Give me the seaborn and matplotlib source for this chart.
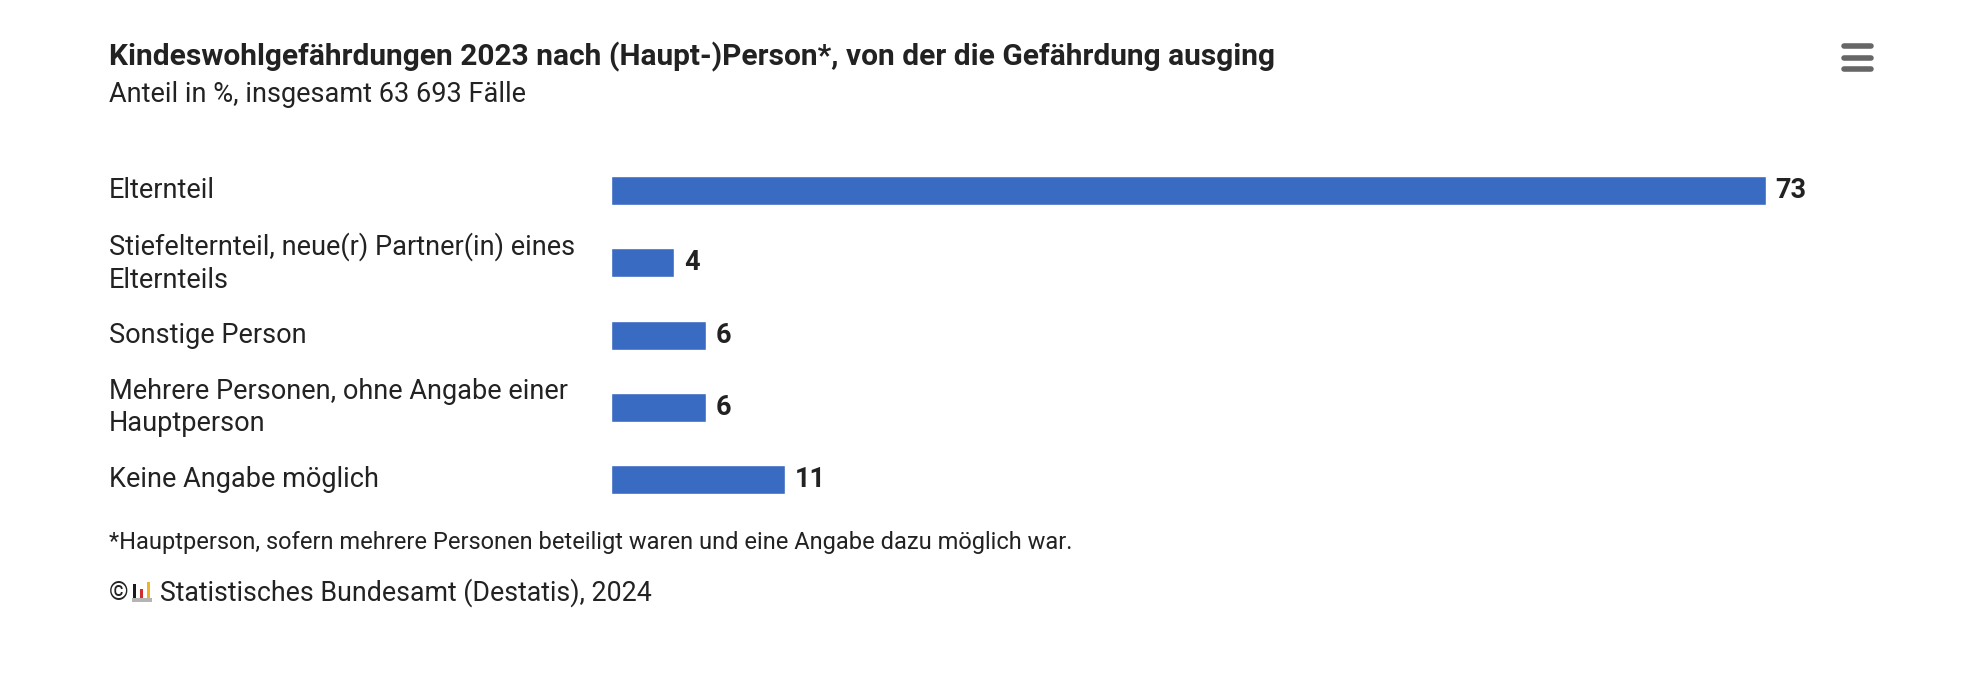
import matplotlib
matplotlib.use("Agg")
import matplotlib.pyplot as plt
import matplotlib.transforms as mtransforms
from matplotlib.patches import Rectangle
import seaborn as sns

# data
categories = [
    "Elternteil",
    "Stiefelternteil, neue(r) Partner(in) eines\nElternteils",
    "Sonstige Person",
    "Mehrere Personen, ohne Angabe einer\nHauptperson",
    "Keine Angabe möglich",
]
values = [73, 4, 6, 6, 11]

title = "Kindeswohlgefährdungen 2023 nach (Haupt-)Person*, von der die Gefährdung ausging"
subtitle = "Anteil in %, insgesamt 63 693 Fälle"
footnote = "*Hauptperson, sofern mehrere Personen beteiligt waren und eine Angabe dazu möglich war."
source = "Statistisches Bundesamt (Destatis), 2024"

W, H = 1968, 674
bar_color = "#3a6bc2"
text_color = "#222222"

sns.set_theme(style="white")
plt.rcParams["font.family"] = ["Roboto", "DejaVu Sans"]

fig = plt.figure(figsize=(W / 100, H / 100), dpi=100)
fig.patch.set_facecolor("white")


def fx(px):
    return px / W


def fy(py):
    # pixel from top -> figure fraction
    return 1 - py / H


# axes: bars start at x=611px, 15.82 px per unit, rows 72.3 px apart
ax = fig.add_axes([fx(611), fy(516), fx(80 * 15.82), 361.5 / H])
sns.barplot(x=values, y=list(range(len(categories))), orient="h",
            color=bar_color, width=0.4, ax=ax, saturation=1)
ax.set_xlim(0, 80)
ax.set_ylim(4.5, -0.5)
ax.axis("off")

ax.bar_label(ax.containers[0], labels=[str(v) for v in values], padding=7,
             fontsize=19.5, fontweight="bold", color=text_color)

trans = mtransforms.blended_transform_factory(fig.transFigure, ax.transData)
for i, cat in enumerate(categories):
    ax.text(fx(109), i, cat, transform=trans, ha="left", va="center",
            fontsize=19.5, color=text_color, linespacing=1.27)

fig.text(fx(109), fy(57), title, ha="left", va="center", fontsize=21.5,
         fontweight="bold", color=text_color)
fig.text(fx(109), fy(94), subtitle, ha="left", va="center", fontsize=19.5,
         color=text_color)
fig.text(fx(109), fy(543), footnote, ha="left", va="center", fontsize=17,
         color=text_color)
fig.text(fx(109), fy(593), "©", ha="left", va="center", fontsize=18,
         color=text_color)
fig.text(fx(160), fy(593), source, ha="left", va="center", fontsize=19.3,
         color=text_color)

# small Destatis logo
logo = [
    (132, 598, 20, 4, "#b4b4b4"),
    (133, 584, 3, 14, "#1a1a1a"),
    (140, 589, 3, 9, "#d22c2c"),
    (147, 582, 3, 16, "#f0b429"),
]
for x0, y0, w, h, c in logo:
    fig.patches.append(Rectangle((fx(x0), fy(y0 + h)), fx(w), h / H,
                                 transform=fig.transFigure, color=c, lw=0))

# menu icon
for yy in (46, 58, 69):
    fig.add_artist(plt.Line2D([fx(1844), fx(1871)], [fy(yy), fy(yy)],
                              transform=fig.transFigure, color="#666666",
                              lw=4, solid_capstyle="round"))

fig.savefig("out.png", dpi=100, facecolor=fig.get_facecolor())
